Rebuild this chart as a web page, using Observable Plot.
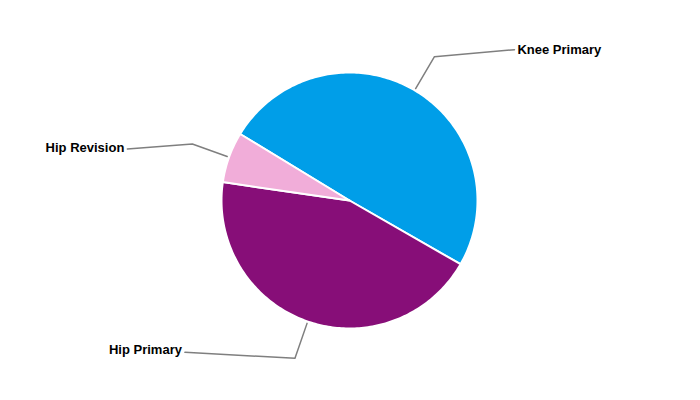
<!DOCTYPE html>
<html>
<head>
<meta charset="utf-8">
<script src="https://cdn.jsdelivr.net/npm/d3@7"></script>
<script src="https://cdn.jsdelivr.net/npm/@observablehq/plot@0.6"></script>
<style>
  html, body { margin: 0; padding: 0; background: #fff; }
  #chart svg { display: block; }
</style>
</head>
<body>
<div id="chart"></div>
<script>
// ---- data ----
const categories = ["Knee Primary", "Hip Primary", "Hip Revision"];
const values = [49.6, 44.0, 6.4];
const colors = ["#009EE8", "#870E78", "#F1ADD9"];

// ---- layout ----
const W = 700, H = 400;
const cx = 349, cy = 200;          // pie centre in pixels
const R = 128;                     // pie radius
const startDeg = -58.7;            // first slice starts here (clockwise from 12 o'clock)
const leadInner = 130, leadElbow = 167;
// horizontal tail of each leader line (screen px: dx, dy) and label nudge
const tails = [[80, -7], [-110, -6], [-65, 5]];
const labelNudge = [0, -3, -1];

const toRad = d => d * Math.PI / 180;
const pie = d3.pie().sort(null)
  .startAngle(toRad(startDeg))
  .endAngle(toRad(startDeg) + 2 * Math.PI);
const arcs = pie(values);

// polar -> plot coordinates (x right, y up)
const pt = (r, a) => [r * Math.sin(a), r * Math.cos(a)];

const slicePts = [];
arcs.forEach((a, i) => {
  const n = Math.max(4, Math.ceil((a.endAngle - a.startAngle) / toRad(1)));
  slicePts.push({name: categories[i], x: 0, y: 0});
  for (let k = 0; k <= n; k++) {
    const ang = a.startAngle + (a.endAngle - a.startAngle) * k / n;
    const [x, y] = pt(R, ang);
    slicePts.push({name: categories[i], x, y});
  }
  slicePts.push({name: categories[i], x: 0, y: 0});
});

const leaderPts = [];
const labels = [];
arcs.forEach((a, i) => {
  const mid = (a.startAngle + a.endAngle) / 2;
  const [x0, y0] = pt(leadInner, mid);
  const [x1, y1] = pt(leadElbow, mid);
  const x2 = x1 + tails[i][0], y2 = y1 - tails[i][1];
  leaderPts.push({name: categories[i], x: x0, y: y0});
  leaderPts.push({name: categories[i], x: x1, y: y1});
  leaderPts.push({name: categories[i], x: x2, y: y2});
  labels.push({name: categories[i], x: x2, y: y2 - labelNudge[i], right: tails[i][0] > 0});
});

const chart = Plot.plot({
  width: W,
  height: H,
  margin: 0,
  x: {domain: [-cx, W - cx], axis: null},
  y: {domain: [-(H - cy), cy], axis: null},
  color: {domain: categories, range: colors},
  style: {fontFamily: "'Liberation Sans', Arial, sans-serif", background: "#fff"},
  marks: [
    Plot.line(slicePts, {x: "x", y: "y", z: "name", fill: "name", stroke: "#fff", strokeWidth: 2, strokeLinejoin: "round", curve: "linear"}),
    Plot.line(leaderPts, {x: "x", y: "y", z: "name", stroke: "#7f7f7f", strokeWidth: 1.5, curve: "linear"}),
    Plot.text(labels.filter(d => d.right), {x: "x", y: "y", text: "name", textAnchor: "start", dx: 3, fontSize: 13, fontWeight: "bold", fill: "#000"}),
    Plot.text(labels.filter(d => !d.right), {x: "x", y: "y", text: "name", textAnchor: "end", dx: -3, fontSize: 13, fontWeight: "bold", fill: "#000"})
  ]
});
document.getElementById("chart").appendChild(chart);
</script>
</body>
</html>
